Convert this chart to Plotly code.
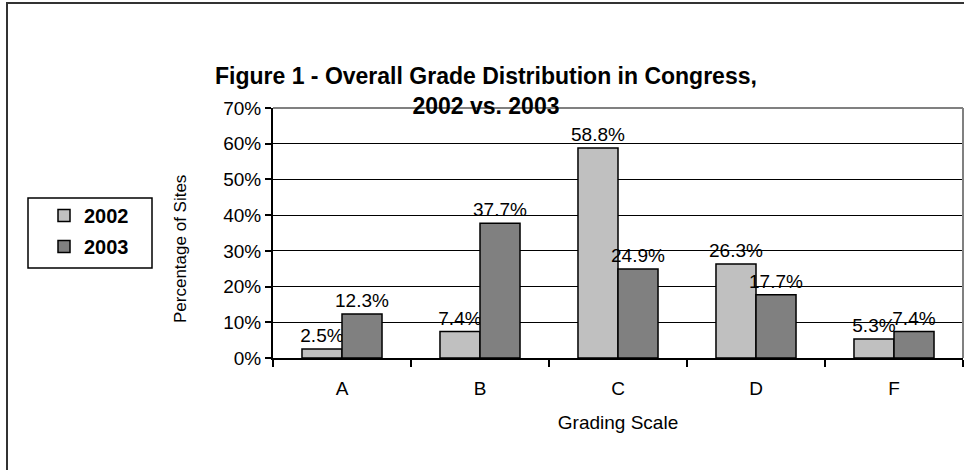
import plotly.graph_objects as go

categories = ["A", "B", "C", "D", "F"]
series_names = ["2002", "2003"]
values_2002 = [2.5, 7.4, 58.8, 26.3, 5.3]
values_2003 = [12.3, 37.7, 24.9, 17.7, 7.4]
y_ticks = [0, 10, 20, 30, 40, 50, 60, 70]
y_tick_text = [f"{v}%" for v in y_ticks]
title_lines = ["Figure 1 - Overall Grade Distribution in Congress,", "2002 vs. 2003"]
y_title = "Percentage of Sites"
x_title = "Grading Scale"

W, H = 973, 470
L, R, T, B = 273, 10, 108, 112
pw = W - L - R
ph = H - T - B
FONT = "Liberation Sans, Arial"

def px_x(x):
    return (x - L) / pw

def px_y(y):
    return (H - B - y) / ph

fig = go.Figure()
for name, vals, col in [(series_names[0], values_2002, "#c0c0c0"),
                        (series_names[1], values_2003, "#808080")]:
    fig.add_trace(go.Bar(
        x=categories, y=vals, name=name, legendgroup=name,
        marker=dict(color=col, line=dict(color="black", width=1.5)),
        text=[f"{v:.1f}%" for v in vals], textposition="outside",
        constraintext="none",
        textfont=dict(family=FONT, size=19, color="black"),
        cliponaxis=False,
    ))

annotations = [
    dict(text="<br>".join(title_lines), xref="paper", yref="paper",
         x=px_x(486), y=px_y(91), xanchor="center", yanchor="middle",
         align="center", showarrow=False,
         font=dict(family=FONT, size=23, color="black", weight="bold")),
    dict(text=y_title, xref="paper", yref="paper", x=px_x(180), y=px_y(249),
         xanchor="center", yanchor="middle", showarrow=False, textangle=-90,
         font=dict(family=FONT, size=17, color="black")),
]

fig.update_layout(
    width=W, height=H,
    margin=dict(l=L, r=R, t=T, b=B),
    paper_bgcolor="white", plot_bgcolor="white",
    barmode="group", bargap=0.42, bargroupgap=0,
    font=dict(family=FONT, size=19, color="black"),
    annotations=annotations,
    showlegend=True,
    legend=dict(
        x=px_x(44), y=px_y(196), xanchor="left", yanchor="top",
        borderwidth=0, bgcolor="rgba(0,0,0,0)",
        font=dict(family=FONT, size=20, color="black", weight="bold"),
        traceorder="grouped", tracegroupgap=2, itemwidth=30,
    ),
    xaxis=dict(
        showline=True, linecolor="black", linewidth=2,
        ticks="outside", tickson="boundaries", ticklen=7, tickwidth=2, tickcolor="black",
        ticklabelstandoff=12,
        title=dict(text=x_title, standoff=18, font=dict(size=19)),
        tickfont=dict(size=19),
    ),
    yaxis=dict(
        range=[0, 70], tickvals=y_ticks, ticktext=y_tick_text,
        showline=True, linecolor="black", linewidth=2,
        ticks="outside", ticklen=6, tickwidth=2, tickcolor="black",
        showgrid=True, gridcolor="black", gridwidth=1,
        zeroline=False,
        tickfont=dict(size=19),
    ),
    shapes=[
        dict(type="line", xref="paper", yref="paper", x0=0, x1=1, y0=1, y1=1,
             line=dict(color="#808080", width=2), layer="above"),
        dict(type="line", xref="paper", yref="paper", x0=1, x1=1, y0=0, y1=1,
             line=dict(color="#808080", width=2), layer="above"),
        dict(type="path", xref="paper", yref="paper",
             path=f"M {px_x(7)} {px_y(480)} L {px_x(7)} {px_y(3)} L {px_x(964)} {px_y(3)}",
             line=dict(color="#333333", width=2), layer="above"),
        dict(type="rect", xref="paper", yref="paper",
             x0=px_x(28), x1=px_x(152), y0=px_y(268), y1=px_y(198),
             line=dict(color="black", width=1.5), layer="below"),
    ],
)

fig.write_html("out.html", config={"displayModeBar": False},
               post_script="document.body.style.margin='0';")
